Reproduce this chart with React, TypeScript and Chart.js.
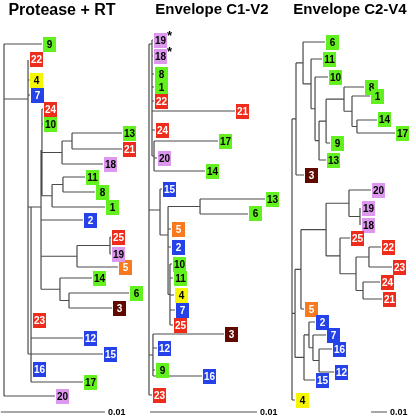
import { useEffect, useRef } from 'react';
import { Chart, registerables } from 'chart.js';

Chart.register(...registerables);

// ================= DATA =================
const panelTitles = ['Protease + RT', 'Envelope C1-V2', 'Envelope C2-V4'];

// Each tree: node name, parent name, distance from root (units of 0.001 subst./site),
// row of the node (null = midway between its outermost children)
const p1Names = ['R', '9', 'A', '20', '22', '4', '7', '15', 'E', 'C', '23', '12', '16', '17', 'F', '2', 'I', 'J', '24', '10', 'G', 'H', 'K', '18', '13', '21', 'L', '1', '11', '8', 'M', '5', '25', '19', '14', 'N', '6', '3'];
const p1Parents = ['', 'R', 'R', 'R', 'A', 'A', 'A', 'A', 'A', 'E', 'E', 'E', 'E', 'E', 'C', 'C', 'C', 'C', 'F', 'F', 'F', 'F', 'G', 'G', 'K', 'K', 'H', 'H', 'L', 'L', 'I', 'I', 'M', 'M', 'J', 'J', 'N', 'N'];
const p1Depth = [0, 3.65, 2.31, 4.9, 2.4, 2.45, 2.5, 9.52, 2.6, 3.56, 2.69, 7.6, 2.69, 7.6, 3.65, 7.6, 7.02, 5.38, 3.75, 3.75, 5.58, 4.62, 6.54, 9.52, 11.35, 11.35, 5.67, 9.71, 7.79, 8.75, 10.19, 10.96, 10.29, 10.29, 8.46, 6.25, 12.02, 10.38];
const p1Rows = [null, 44, 99, 396, 60, 80, 95, 354, 207, 207, 320, 338, 369, 382, 150, 220, null, null, 109, 124, null, null, null, 164, 133, 149, null, 207, 177, 192, null, 267, 237, 254, 278, null, 293, 308];

const p2Names = ['R', 'U', 'Q', 'S', '23', '19', '18', '8', '1', '22', '21', '24', 'P', '17', '20', '14', '15', 'V', 'Rn', '5', '2', 'W', '13', '6', '10', '11', '4', '7', '25', '3', '12', '9', '16'];
const p2Parents = ['', 'R', 'R', 'R', 'R', 'U', 'U', 'U', 'U', 'U', 'U', 'U', 'U', 'P', 'P', 'P', 'Q', 'Q', 'V', 'V', 'V', 'V', 'Rn', 'Rn', 'W', 'W', 'W', 'W', 'W', 'S', 'S', 'S', 'S'];
const p2Depth = [0, 0.28, 1.03, 0.37, 0.28, 0.37, 0.37, 0.47, 0.47, 0.47, 8.04, 0.56, 0.47, 6.45, 0.75, 5.23, 1.21, 1.78, 4.77, 2.06, 2.06, 1.96, 10.84, 9.25, 2.15, 2.24, 2.34, 2.43, 2.24, 7.01, 0.75, 0.56, 4.95];
const p2Rows = [null, 44, 210, null, 395, 40, 56, 74, 87, 101, 111, 130, null, 141, 158, 171, 189, 235, null, 229, 247, null, 199, 214, 264, 278, 295, 310, 325, 334, 348, 370, 376];

const p3Names = ['R', 'Z6', 'AF', '4', 'Z5', '3', '6', 'Z4', '11', 'Z3', '10', 'Z2', 'Z1', '13', 'Y0', '9', '8', 'Y1', '1', 'Y2', '14', '17', 'AE', 'CA', 'AC', '5', 'AA', 'BD', '20', 'AB', '19', '18', '25', 'BC', 'BA', 'BB', '22', '23', '24', '21', 'CB', '15', '2', 'CC', '7', 'CD', '16', '12'];
const p3Parents = ['', 'R', 'R', 'R', 'Z6', 'Z6', 'Z5', 'Z5', 'Z4', 'Z4', 'Z3', 'Z3', 'Z2', 'Z2', 'Z1', 'Z1', 'Y0', 'Y0', 'Y1', 'Y1', 'Y2', 'Y2', 'AF', 'AF', 'AE', 'AE', 'AC', 'AC', 'AA', 'AA', 'AB', 'AB', 'BD', 'BD', 'BC', 'BC', 'BA', 'BA', 'BB', 'BB', 'CA', 'CA', 'CB', 'CB', 'CC', 'CC', 'CD', 'CD'];
const p3Depth = [0, 2.5, 1.9, 1.9, 6.9, 7.5, 20.6, 11.9, 18.8, 14.4, 22.5, 16.9, 21.3, 21.3, 32.5, 23.8, 45, 37.5, 48.8, 40.6, 53.1, 64.4, 5.6, 7.5, 21.3, 7.5, 35.6, 30, 49.4, 42.5, 43.1, 43.1, 36.3, 40, 48.1, 44.4, 55.6, 62.5, 55, 56.3, 10.6, 14.4, 14.4, 13.1, 21.3, 16.9, 25, 26.3];
const p3Rows = [null, null, null, 400, null, 175, 42, null, 59, null, 77, null, null, 160, null, 143, 87, null, 96, null, 120, 133, null, null, null, 309, null, null, 190, null, 208, 225, 238, null, null, null, 247, 267, 282, 299, null, 380, 322, null, 335, null, 349, 372];

const scaleBarStarts = [-0.3, 0.1, 49.4];
const scaleBarLength = 10; // 0.01 substitutions per site
const scaleBarLabel = '0.01';
const scaleBarRow = 412;

const starredLeaves = [[] as string[], ['19', '18'], [] as string[]];

const greenSubjects = ['1', '6', '8', '9', '10', '11', '13', '14', '17'];
const redSubjects = ['21', '22', '23', '24', '25'];
const blueSubjects = ['2', '7', '12', '15', '16'];
const pinkSubjects = ['18', '19', '20'];
const yellowSubjects = ['4'];
const orangeSubjects = ['5'];
const brownSubjects = ['3'];

// ================= LAYOUT / STYLE =================
const SIZE = 416;
const panelOrigins = [4, 149, 292];
const panelPxPerUnit = [10.4, 10.7, 1.6];
const titleCenters = [62, 212, 350];
const titleFonts = [
  'bold 16px "Liberation Sans", Arial, sans-serif',
  'bold 15px "Liberation Sans", Arial, sans-serif',
  'bold 15px "Liberation Sans", Arial, sans-serif',
];
const titleBaselines = [15, 14, 14];
const BOX_W = 13;
const BOX_H = 15;
const LINE_COLOR = '#4a4a4a';

const groupStyles = [
  { ids: greenSubjects, fill: '#62f01e', text: '#000000' },
  { ids: redSubjects, fill: '#ee2c1c', text: '#ffffff' },
  { ids: blueSubjects, fill: '#2442e8', text: '#ffffff' },
  { ids: pinkSubjects, fill: '#dc98ec', text: '#000000' },
  { ids: yellowSubjects, fill: '#f6f600', text: '#000000' },
  { ids: orangeSubjects, fill: '#f77a1e', text: '#ffffff' },
  { ids: brownSubjects, fill: '#5e0800', text: '#ffffff' },
];

type Pt = { x: number; y: number };
type Tree = { names: string[]; depth: number[]; y: number[]; leaves: number[]; segs: Pt[] };

function buildTree(names: string[], parents: string[], depth: number[], rows: (number | null)[]): Tree {
  const index = new Map<string, number>();
  names.forEach((n, i) => index.set(n, i));
  const kids: number[][] = names.map(() => []);
  parents.forEach((p, i) => {
    if (p) kids[index.get(p)!].push(i);
  });
  const y: number[] = names.map(() => NaN);
  const rowOf = (i: number): number => {
    if (!isNaN(y[i])) return y[i];
    const r = rows[i];
    if (r !== null && r !== undefined) {
      y[i] = r;
    } else {
      const ks = kids[i].map(rowOf);
      y[i] = (Math.min(...ks) + Math.max(...ks)) / 2;
    }
    return y[i];
  };
  names.forEach((_, i) => rowOf(i));
  const segs: Pt[] = [];
  names.forEach((_, i) => {
    const p = parents[i];
    if (p) {
      const pi = index.get(p)!;
      segs.push({ x: depth[pi], y: y[i] }, { x: depth[i], y: y[i] }, { x: NaN, y: NaN });
    }
    if (kids[i].length) {
      const ks = kids[i].map((k) => y[k]);
      if (p) ks.push(y[i]);
      segs.push({ x: depth[i], y: Math.min(...ks) }, { x: depth[i], y: Math.max(...ks) }, { x: NaN, y: NaN });
    }
  });
  const leaves = names.map((_, i) => i).filter((i) => kids[i].length === 0);
  return { names, depth, y, leaves, segs };
}

const trees: Tree[] = [
  buildTree(p1Names, p1Parents, p1Depth, p1Rows),
  buildTree(p2Names, p2Parents, p2Depth, p2Rows),
  buildTree(p3Names, p3Parents, p3Depth, p3Rows),
];

function styleOf(id: string) {
  return groupStyles.find((g) => g.ids.includes(id)) || { fill: '#cccccc', text: '#000' };
}

const labelPlugin = {
  id: 'treeLabels',
  afterDatasetsDraw(chart: any) {
    const ctx: CanvasRenderingContext2D = chart.ctx;
    const ys = chart.scales.y;
    ctx.save();
    trees.forEach((t, k) => {
      const xs = chart.scales['x' + (k + 1)];
      // title
      ctx.fillStyle = '#000';
      ctx.font = titleFonts[k];
      ctx.textAlign = 'center';
      ctx.textBaseline = 'alphabetic';
      ctx.fillText(panelTitles[k], titleCenters[k], titleBaselines[k]);
      // scale bar label
      ctx.font = 'bold 9px "Liberation Sans", Arial, sans-serif';
      ctx.textAlign = 'left';
      ctx.textBaseline = 'middle';
      ctx.fillText(
        scaleBarLabel,
        xs.getPixelForValue(scaleBarStarts[k] + scaleBarLength) + 3,
        ys.getPixelForValue(scaleBarRow) + 0.5
      );
      // leaf boxes
      t.leaves.forEach((i) => {
        const id = t.names[i];
        const st = styleOf(id);
        const left = Math.round(xs.getPixelForValue(t.depth[i]) + 1);
        const top = Math.round(ys.getPixelForValue(t.y[i]) - BOX_H / 2);
        ctx.fillStyle = st.fill;
        ctx.fillRect(left, top, BOX_W, BOX_H);
        ctx.fillStyle = st.text;
        ctx.font = 'bold 10px "Liberation Sans", Arial, sans-serif';
        ctx.textAlign = 'center';
        ctx.textBaseline = 'middle';
        ctx.fillText(id, left + BOX_W / 2, top + BOX_H / 2 + 1);
        if (starredLeaves[k].includes(id)) {
          ctx.fillStyle = '#000';
          ctx.font = 'bold 13px "Liberation Sans", Arial, sans-serif';
          ctx.textAlign = 'left';
          ctx.textBaseline = 'top';
          ctx.fillText('*', left + BOX_W, top - 3);
        }
      });
    });
    ctx.restore();
  },
};

export default function App() {
  const ref = useRef<HTMLCanvasElement>(null);
  useEffect(() => {
    const scales: any = {
      y: { type: 'linear', min: 0, max: SIZE, reverse: true, display: false },
    };
    const datasets: any[] = [];
    trees.forEach((t, k) => {
      const id = 'x' + (k + 1);
      scales[id] = {
        type: 'linear',
        axis: 'x',
        position: 'bottom',
        display: false,
        min: -panelOrigins[k] / panelPxPerUnit[k],
        max: (SIZE - panelOrigins[k]) / panelPxPerUnit[k],
      };
      datasets.push({
        label: panelTitles[k],
        data: t.segs,
        xAxisID: id,
        yAxisID: 'y',
        showLine: true,
        spanGaps: false,
        borderColor: LINE_COLOR,
        borderWidth: 1.2,
        pointRadius: 0,
        pointHoverRadius: 0,
        fill: false,
        tension: 0,
      });
      datasets.push({
        label: 'scale ' + (k + 1),
        data: [
          { x: scaleBarStarts[k], y: scaleBarRow },
          { x: scaleBarStarts[k] + scaleBarLength, y: scaleBarRow },
        ],
        xAxisID: id,
        yAxisID: 'y',
        showLine: true,
        borderColor: '#8a8a8a',
        borderWidth: 1.5,
        pointRadius: 0,
        fill: false,
      });
    });
    const chart = new Chart(ref.current!, {
      type: 'scatter',
      data: { datasets },
      options: {
        animation: false,
        responsive: true,
        maintainAspectRatio: false,
        layout: { padding: 0 },
        scales,
        plugins: { legend: { display: false }, tooltip: { enabled: false }, title: { display: false } },
        events: [],
      } as any,
      plugins: [labelPlugin],
    });
    return () => chart.destroy();
  }, []);
  return (
    <div style={{ position: 'fixed', left: 0, top: 0, width: SIZE, height: SIZE, background: '#fff' }}>
      <canvas ref={ref} />
    </div>
  );
}
